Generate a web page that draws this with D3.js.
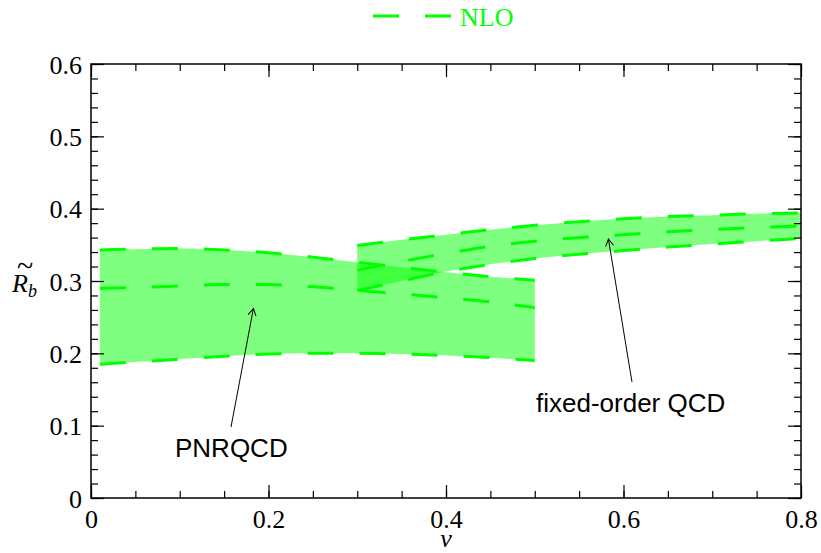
<!DOCTYPE html>
<html><head><meta charset="utf-8">
<script src="https://cdn.jsdelivr.net/npm/d3@7"></script>
<style>body{margin:0;background:#fff}</style></head>
<body><svg id="c" width="821" height="553"></svg>
<script>
const xTicks=[0,0.2,0.4,0.6,0.8];
const yTicks=[0,0.1,0.2,0.3,0.4,0.5,0.6];
const pnrV=[0.01,0.05,0.1,0.15,0.2,0.25,0.3,0.35,0.4,0.45,0.5];
const pnrUpper=[0.343,0.344,0.345,0.343,0.339,0.333,0.326,0.319,0.312,0.306,0.301];
const pnrCentral=[0.290,0.291,0.293,0.295,0.295,0.292,0.287,0.282,0.277,0.271,0.263];
const pnrLower=[0.185,0.188,0.192,0.196,0.199,0.200,0.200,0.199,0.197,0.194,0.190];
const foV=[0.3,0.35,0.4,0.45,0.5,0.55,0.6,0.65,0.7,0.75,0.8];
const foUpper=[0.349,0.357,0.364,0.371,0.377,0.382,0.386,0.389,0.391,0.393,0.394];
const foCentral=[0.315,0.327,0.338,0.348,0.355,0.360,0.364,0.368,0.371,0.374,0.376];
const foLower=[0.287,0.300,0.313,0.323,0.331,0.337,0.342,0.347,0.351,0.355,0.359];
const legendLabel="NLO";
const annotations=[
 {text:"PNRQCD", v:0.183, r:0.262, tx:175, ty:457, ax:231, ay:427},
 {text:"fixed-order QCD", v:0.583, r:0.358, tx:536, ty:412, ax:632, ay:382}
];

const svg=d3.select("#c");
const L=91,R=801,T=64,B=498;
const x=d3.scaleLinear().domain([0,0.8]).range([L,R]);
const y=d3.scaleLinear().domain([0,0.6]).range([B,T]);
const green="#00ff00";
const serif="'Liberation Serif', 'DejaVu Serif', serif";
const sans="'Liberation Sans', Arial, sans-serif";

function band(vs,lo,hi){
  const data=vs.map((v,i)=>({v,lo:lo[i],hi:hi[i]}));
  svg.append("path").datum(data)
    .attr("d",d3.area().x(d=>x(d.v)).y0(d=>y(d.lo)).y1(d=>y(d.hi)).curve(d3.curveMonotoneX))
    .attr("fill",green).attr("fill-opacity",0.5);
}
function dline(vs,vals){
  svg.append("path").datum(vs.map((v,i)=>[v,vals[i]]))
    .attr("d",d3.line().x(d=>x(d[0])).y(d=>y(d[1])).curve(d3.curveMonotoneX))
    .attr("fill","none").attr("stroke",green).attr("stroke-width",3)
    .attr("stroke-dasharray","26,26");
}
band(pnrV,pnrLower,pnrUpper);
band(foV,foLower,foUpper);
[pnrUpper,pnrCentral,pnrLower].forEach(a=>dline(pnrV,a));
[foUpper,foCentral,foLower].forEach(a=>dline(foV,a));

// axes with inward ticks
const xMinor=d3.range(0,0.8001,0.05), yMinor=d3.range(0,0.6001,0.02);
function styleAxis(g){
  g.select(".domain").remove();
  g.attr("font-family",null).attr("font-size",null);
  g.selectAll("line").attr("stroke","#000").attr("stroke-width",1.2);
}
function styleText(g){
  g.selectAll("text").style("font-family",serif).style("font-size","26px")
   .style("font-weight","normal").attr("fill","#000");
}
svg.append("g").attr("transform",`translate(0,${B})`)
  .call(d3.axisBottom(x).tickValues(xMinor).tickSize(-7).tickFormat(""))
  .call(styleAxis);
svg.append("g").attr("transform",`translate(0,${B})`)
  .call(d3.axisBottom(x).tickValues(xTicks).tickSize(-13).tickFormat(d=>String(d)))
  .call(styleAxis).call(styleText)
  .call(g=>g.selectAll("text").attr("dy",null).attr("y",30));
svg.append("g").attr("transform",`translate(0,${T})`)
  .call(d3.axisTop(x).tickValues(xMinor).tickSize(-7).tickFormat("")).call(styleAxis);
svg.append("g").attr("transform",`translate(0,${T})`)
  .call(d3.axisTop(x).tickValues(xTicks).tickSize(-13).tickFormat("")).call(styleAxis);
svg.append("g").attr("transform",`translate(${L},0)`)
  .call(d3.axisLeft(y).tickValues(yMinor).tickSize(-7).tickFormat("")).call(styleAxis);
svg.append("g").attr("transform",`translate(${L},0)`)
  .call(d3.axisLeft(y).tickValues(yTicks).tickSize(-13).tickFormat(d=>String(d)))
  .call(styleAxis).call(styleText)
  .call(g=>g.selectAll("text").attr("x",-9).attr("dy",null).attr("y",9));
svg.append("g").attr("transform",`translate(${R},0)`)
  .call(d3.axisRight(y).tickValues(yMinor).tickSize(-7).tickFormat("")).call(styleAxis);
svg.append("g").attr("transform",`translate(${R},0)`)
  .call(d3.axisRight(y).tickValues(yTicks).tickSize(-13).tickFormat("")).call(styleAxis);
svg.append("rect").attr("x",L).attr("y",T).attr("width",R-L).attr("height",B-T)
  .attr("fill","none").attr("stroke","#000").attr("stroke-width",1.5);

// axis titles
svg.append("text").attr("x",x(0.4)).attr("y",547).attr("text-anchor","middle")
  .style("font-family",serif).style("font-style","italic").style("font-size","26px").text("v");
const yl=svg.append("text").attr("x",12).attr("y",292).style("font-family",serif).style("font-size","26px");
yl.append("tspan").style("font-style","italic").text("R");
yl.append("tspan").style("font-style","italic").style("font-size","18px").attr("dy",5).text("b");
svg.append("text").attr("x",25).attr("y",276).attr("text-anchor","middle")
  .style("font-family",serif).style("font-size","30px").text("~");

// legend
svg.append("line").attr("x1",373).attr("x2",452).attr("y1",16).attr("y2",16)
  .attr("stroke",green).attr("stroke-width",3).attr("stroke-dasharray","26,26");
svg.append("text").attr("x",460).attr("y",26).style("font-family",serif).style("font-size","26px")
  .attr("fill",green).text(legendLabel);

// annotations
svg.append("defs").append("marker").attr("id","ah").attr("viewBox","-10 -6 12 12")
  .attr("refX",0).attr("refY",0).attr("markerWidth",12).attr("markerHeight",12)
  .attr("markerUnits","userSpaceOnUse").attr("orient","auto")
  .append("path").attr("d","M-7,-4L0,0L-7,4").attr("fill","none").attr("stroke","#000").attr("stroke-width",1);
annotations.forEach(a=>{
  svg.append("line").attr("x1",a.ax).attr("y1",a.ay).attr("x2",x(a.v)).attr("y2",y(a.r))
    .attr("stroke","#000").attr("stroke-width",1).attr("marker-end","url(#ah)");
  svg.append("text").attr("x",a.tx).attr("y",a.ty).style("font-family",sans).style("font-size","26px")
    .attr("fill","#000").text(a.text);
});
</script></body></html>
